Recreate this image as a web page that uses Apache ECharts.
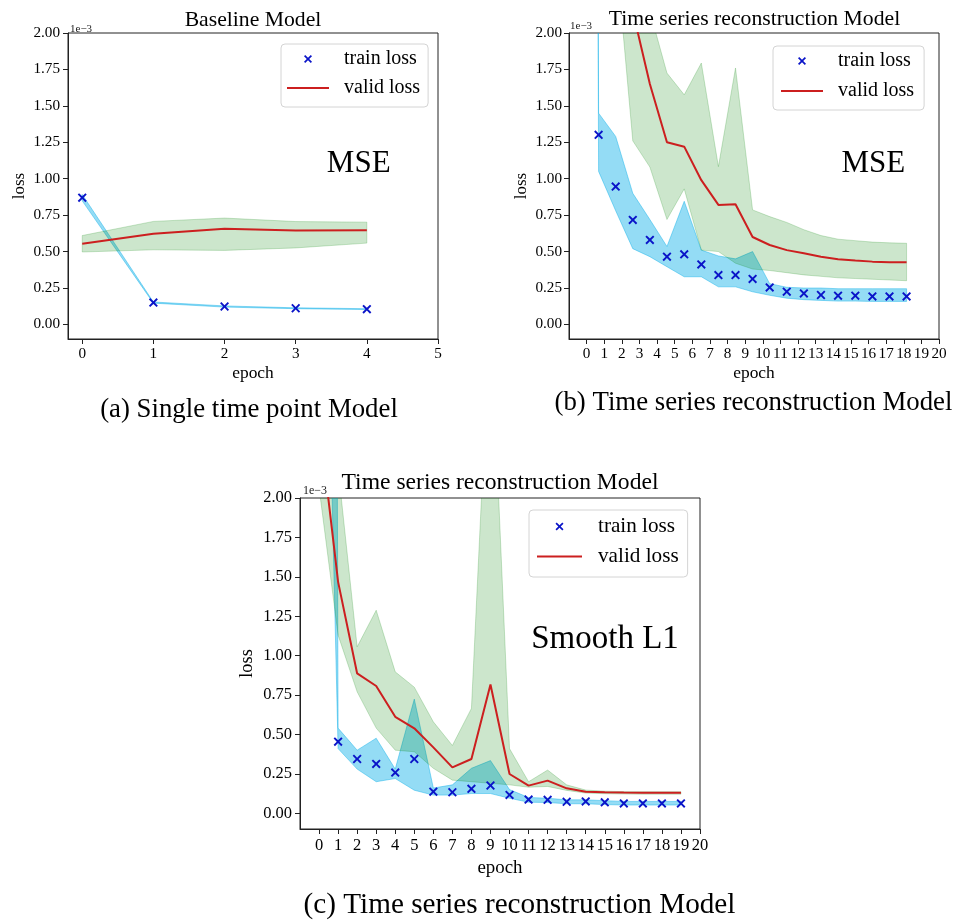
<!DOCTYPE html>
<html><head><meta charset="utf-8">
<script src="https://cdn.jsdelivr.net/npm/echarts@6/dist/echarts.min.js"></script>
<style>html,body{margin:0;padding:0;background:#fff}#c{width:957px;height:922px}</style>
</head><body><div id="c"></div>
<script>
// ---------------- data (loss values in units of 1e-3) ----------------
const yTicks = [0, 0.25, 0.5, 0.75, 1.0, 1.25, 1.5, 1.75, 2.0];
const xTicksA = [0, 1, 2, 3, 4, 5];
const xTicksBC = [0, 1, 2, 3, 4, 5, 6, 7, 8, 9, 10, 11, 12, 13, 14, 15, 16, 17, 18, 19, 20];

// (a) Baseline Model (MSE)
const epochA = [0, 1, 2, 3, 4];
const trainA = [0.870, 0.150, 0.123, 0.111, 0.105];
const trainLowA = [0.848, 0.146, 0.119, 0.108, 0.102];
const trainHighA = [0.892, 0.154, 0.127, 0.114, 0.108];
const validA = [0.553, 0.622, 0.657, 0.644, 0.646];
const validLowA = [0.497, 0.512, 0.508, 0.525, 0.558];
const validHighA = [0.610, 0.707, 0.730, 0.706, 0.702];

// (b) Time series reconstruction Model (MSE)
const epochB = [0.68, 1.65, 2.62, 3.59, 4.56, 5.54, 6.51, 7.48, 8.45, 9.42, 10.39, 11.36, 12.33, 13.30, 14.27, 15.25, 16.22, 17.19, 18.16];
const trainB = [1.301, 0.946, 0.717, 0.580, 0.465, 0.481, 0.412, 0.339, 0.339, 0.312, 0.254, 0.225, 0.213, 0.202, 0.197, 0.197, 0.192, 0.192, 0.192];
const trainBandXB = [-0.29, 0.68, 1.65, 2.62, 3.59, 4.56, 5.54, 6.51, 7.48, 8.45, 9.42, 10.39, 11.36, 12.33, 13.30, 14.27, 15.25, 16.22, 17.19, 18.16];
const trainLowB = [32, 1.05, 0.78, 0.52, 0.465, 0.396, 0.327, 0.327, 0.258, 0.258, 0.224, 0.20, 0.18, 0.17, 0.165, 0.16, 0.16, 0.158, 0.158, 0.158];
const trainHighB = [45, 1.45, 1.29, 0.90, 0.72, 0.535, 0.845, 0.51, 0.47, 0.45, 0.50, 0.28, 0.255, 0.25, 0.25, 0.245, 0.245, 0.245, 0.245, 0.245];
const validB = [3.3, 2.7, 2.15, 1.65, 1.25, 1.22, 0.99, 0.82, 0.825, 0.60, 0.545, 0.51, 0.488, 0.465, 0.447, 0.438, 0.431, 0.427, 0.426];
const validLowB = [2.9, 2.57, 1.26, 1.08, 0.72, 0.93, 0.51, 0.50, 0.42, 0.38, 0.37, 0.355, 0.34, 0.33, 0.32, 0.315, 0.31, 0.305, 0.30];
const validHighB = [3.6, 3.2, 2.6, 2.15, 1.725, 1.576, 1.794, 1.083, 1.76, 0.786, 0.74, 0.70, 0.65, 0.61, 0.585, 0.575, 0.565, 0.56, 0.557];

// (c) Time series reconstruction Model (Smooth L1)
const epochC = [1, 2, 3, 4, 5, 6, 7, 8, 9, 10, 11, 12, 13, 14, 15, 16, 17, 18, 19];
const trainC = [0.454, 0.344, 0.313, 0.258, 0.344, 0.137, 0.133, 0.155, 0.176, 0.116, 0.087, 0.085, 0.073, 0.075, 0.069, 0.062, 0.062, 0.062, 0.062];
const bandXC = [0, 1, 2, 3, 4, 5, 6, 7, 8, 9, 10, 11, 12, 13, 14, 15, 16, 17, 18, 19];
const trainLowC = [5.5, 0.41, 0.28, 0.20, 0.22, 0.146, 0.115, 0.115, 0.125, 0.125, 0.095, 0.07, 0.068, 0.06, 0.06, 0.055, 0.052, 0.052, 0.052, 0.052];
const trainHighC = [40, 0.54, 0.40, 0.476, 0.28, 0.724, 0.16, 0.18, 0.285, 0.334, 0.15, 0.10, 0.095, 0.085, 0.085, 0.08, 0.075, 0.075, 0.075, 0.075];
const validC = [2.5, 1.468, 0.887, 0.807, 0.612, 0.539, 0.418, 0.291, 0.344, 0.817, 0.249, 0.175, 0.207, 0.158, 0.137, 0.133, 0.131, 0.13, 0.13, 0.13];
const validLowC = [2.065, 1.13, 0.77, 0.54, 0.40, 0.39, 0.285, 0.21, 0.20, 0.19, 0.18, 0.165, 0.17, 0.145, 0.128, 0.124, 0.122, 0.121, 0.121, 0.121];
const validHighC = [3.0, 2.19, 1.056, 1.288, 0.897, 0.80, 0.58, 0.43, 0.665, 3.2, 0.41, 0.20, 0.274, 0.18, 0.147, 0.14, 0.137, 0.136, 0.136, 0.136];

// ---------------- styling ----------------
const FONT = '"Liberation Serif", "Times New Roman", serif';
const XMARK = 'path://M1.5,0L5,3.5L8.5,0L10,1.5L6.5,5L10,8.5L8.5,10L5,6.5L1.5,10L0,8.5L3.5,5L0,1.5Z';
const LINEICON = 'path://M0,0L42,0L42,2L0,2Z';
const BLUE_FILL = 'rgba(0,172,232,0.42)';
const GREEN_FILL = 'rgba(0,128,0,0.2)';
const RED = '#cc1f1f';
const MARK = '#0a14c8';
const AX = '#222';

function zip(a, b) { return a.map((v, i) => [v, b[i]]); }

function xAxisCfg(gi, min, max, ticks, fs, lm, ng, nfs) {
  return {
    type: 'value', gridIndex: gi, min: min, max: max,
    name: 'epoch', nameLocation: 'middle', nameGap: ng,
    nameTextStyle: { fontFamily: FONT, fontSize: nfs, color: '#000', lineHeight: nfs },
    axisLine: { show: true, onZero: false, lineStyle: { color: AX, width: 1 } },
    axisTick: { show: true, inside: false, length: 5, lineStyle: { color: AX, width: 1 }, customValues: ticks },
    axisLabel: { show: true, margin: lm, fontFamily: FONT, fontSize: fs, color: '#000', lineHeight: fs,
      customValues: ticks, formatter: v => String(v) },
    splitLine: { show: false }
  };
}
function yAxisCfg(gi, fs, lm, ng, nfs) {
  return {
    type: 'value', gridIndex: gi, min: -0.1, max: 2.0,
    name: 'loss', nameLocation: 'middle', nameGap: ng, nameRotate: 90,
    nameTextStyle: { fontFamily: FONT, fontSize: nfs, color: '#000', lineHeight: nfs },
    axisLine: { show: true, onZero: false, lineStyle: { color: AX, width: 1 } },
    axisTick: { show: true, inside: false, length: 5, lineStyle: { color: AX, width: 1 }, customValues: yTicks },
    axisLabel: { show: true, margin: lm, fontFamily: FONT, fontSize: fs, color: '#000', lineHeight: fs,
      customValues: yTicks, formatter: v => v.toFixed(2) },
    splitLine: { show: false }
  };
}
function band(gi, name, xs, lo, hi, color, z) {
  return {
    type: 'custom', name: name, xAxisIndex: gi, yAxisIndex: gi, clip: true, silent: true, z: z,
    data: xs.map((x, i) => [x, lo[i], hi[i]]),
    encode: { x: 0, y: [1, 2] },
    renderItem: function (params, api) {
      if (params.dataIndex !== 0) return null;
      const pts = [];
      for (let i = 0; i < xs.length; i++) pts.push(api.coord([xs[i], hi[i]]));
      for (let i = xs.length - 1; i >= 0; i--) pts.push(api.coord([xs[i], lo[i]]));
      return { type: 'polygon', shape: { points: pts }, style: { fill: color, stroke: color, lineWidth: 1 } };
    }
  };
}
function validLine(gi, xs, ys) {
  return { type: 'line', name: 'valid loss', xAxisIndex: gi, yAxisIndex: gi, data: zip(xs, ys),
    symbol: 'none', clip: true, z: 5, silent: true,
    lineStyle: { color: RED, width: 2 }, itemStyle: { color: RED } };
}
function trainScatter(gi, xs, ys) {
  return { type: 'scatter', name: 'train loss', xAxisIndex: gi, yAxisIndex: gi, data: zip(xs, ys),
    symbol: XMARK, symbolSize: 9, clip: true, z: 6, silent: true,
    itemStyle: { color: MARK, opacity: 1 } };
}
function legendCfg(left, top, padding, gap, iw, fs, lh, textPad) {
  return {
    left: left, top: top, orient: 'vertical', padding: padding, itemGap: gap,
    itemWidth: iw, itemHeight: 8, selectedMode: false, symbolKeepAspect: true,
    backgroundColor: 'rgba(255,255,255,0.85)', borderColor: '#d4d4d4', borderWidth: 1, borderRadius: 4,
    textStyle: { fontFamily: FONT, fontSize: fs, lineHeight: lh, color: '#000', padding: [0, 0, 0, textPad] },
    data: [
      { name: 'train loss', icon: XMARK, itemStyle: { color: MARK } },
      { name: 'valid loss', icon: LINEICON, itemStyle: { color: RED } }
    ]
  };
}
function txt(x, y, s, fs, va) {
  return { type: 'text', x: x, y: y, z: 100, silent: true,
    style: { text: s, fontFamily: FONT, fontSize: fs, fill: '#000',
      align: 'center', textAlign: 'center', verticalAlign: va || 'middle', textVerticalAlign: va || 'middle' } };
}
function txtL(x, y, s, fs) {
  return { type: 'text', x: x, y: y, z: 100, silent: true,
    style: { text: s, fontFamily: FONT, fontSize: fs, fill: '#222',
      align: 'left', textAlign: 'left', verticalAlign: 'bottom', textVerticalAlign: 'bottom' } };
}

const chart = echarts.init(document.getElementById('c'), null, { renderer: 'canvas' });
chart.setOption({
  backgroundColor: '#fff',
  animation: false,
  grid: [
    { left: 68, top: 33, width: 370, height: 306, show: true, borderColor: AX, borderWidth: 1, backgroundColor: 'transparent' },
    { left: 569, top: 33, width: 370, height: 306, show: true, borderColor: AX, borderWidth: 1, backgroundColor: 'transparent' },
    { left: 300, top: 498, width: 400, height: 331, show: true, borderColor: AX, borderWidth: 1, backgroundColor: 'transparent' }
  ],
  xAxis: [
    xAxisCfg(0, -0.2, 5, xTicksA, 15.2, 7, 26, 17.4),
    xAxisCfg(1, -1, 20, xTicksBC, 15.2, 7, 26, 17.4),
    xAxisCfg(2, -1, 20, xTicksBC, 16.5, 8, 30, 18.9)
  ],
  yAxis: [
    yAxisCfg(0, 15.2, 8, 40, 17),
    yAxisCfg(1, 15.2, 7, 39, 17),
    yAxisCfg(2, 16.5, 8, 44, 18.4)
  ],
  legend: [
    legendCfg(281, 44, [4, 8, 8, 6], 7, 42, 20, 22, 10),
    legendCfg(773, 46, [4, 10, 8, 8], 8, 42, 20, 22, 10),
    legendCfg(529, 510, [5, 9, 9, 8], 7, 45, 21.2, 23, 11)
  ],
  graphic: [
    txt(253, 20, 'Baseline Model', 21.7),
    txt(754.5, 19.5, 'Time series reconstruction Model', 21.7),
    txt(500, 482.7, 'Time series reconstruction Model', 23.6),
    txt(358.7, 163.5, 'MSE', 31),
    txt(873.3, 163.5, 'MSE', 31),
    txt(605, 639.6, 'Smooth L1', 33),
    txt(249, 410, '(a) Single time point Model', 26.8),
    txt(753.5, 403, '(b) Time series reconstruction Model', 26.8),
    txt(519.5, 905, '(c) Time series reconstruction Model', 29.2),
    txtL(70, 34.5, '1e\u22123', 11),
    txtL(570, 32, '1e\u22123', 11),
    txtL(303, 496.5, '1e\u22123', 12)
  ],
  series: [
    band(0, 'train band a', epochA, trainLowA, trainHighA, BLUE_FILL, 1),
    band(0, 'valid band a', epochA, validLowA, validHighA, GREEN_FILL, 2),
    validLine(0, epochA, validA),
    trainScatter(0, epochA, trainA),

    band(1, 'train band b', trainBandXB, trainLowB, trainHighB, BLUE_FILL, 1),
    band(1, 'valid band b', epochB, validLowB, validHighB, GREEN_FILL, 2),
    validLine(1, epochB, validB),
    trainScatter(1, epochB, trainB),

    band(2, 'train band c', bandXC, trainLowC, trainHighC, BLUE_FILL, 1),
    band(2, 'valid band c', bandXC, validLowC, validHighC, GREEN_FILL, 2),
    validLine(2, bandXC, validC),
    trainScatter(2, epochC, trainC)
  ]
});
</script>
</body></html>
